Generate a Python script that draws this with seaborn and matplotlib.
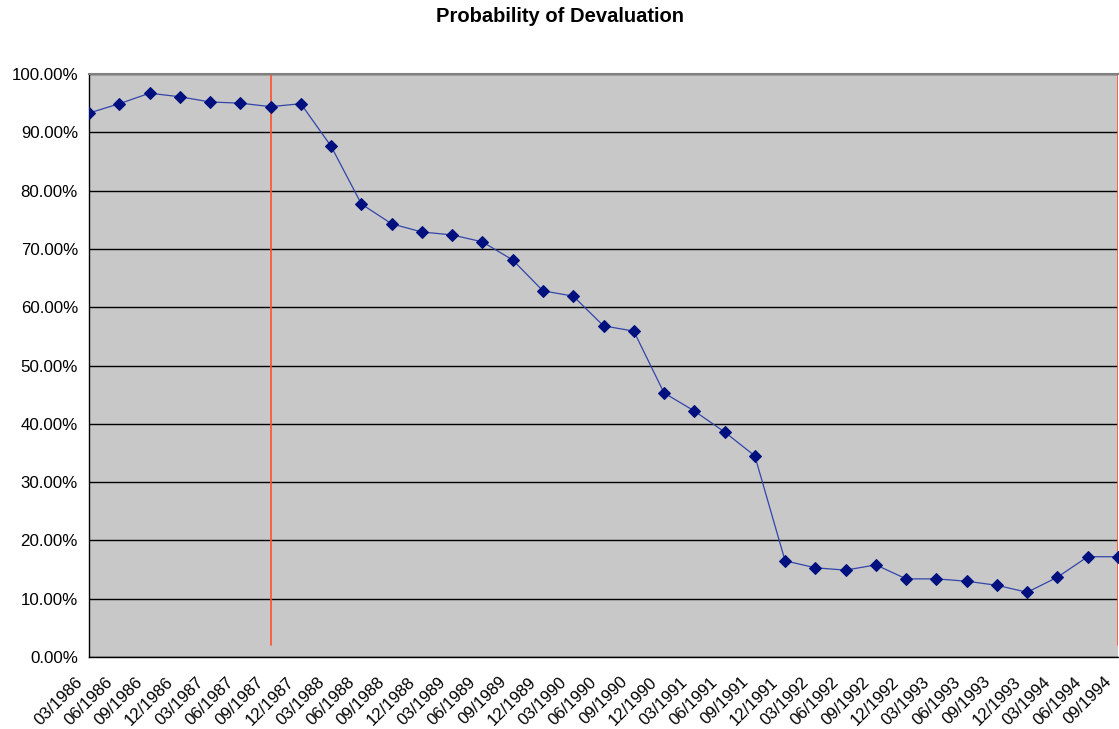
import matplotlib

matplotlib.use("Agg")
import matplotlib.pyplot as plt
import matplotlib.transforms as mtransforms
import numpy as np
import pandas as pd
import seaborn as sns
from matplotlib.ticker import PercentFormatter

# quarterly dates
quarters = [
    "03/1986", "06/1986", "09/1986", "12/1986",
    "03/1987", "06/1987", "09/1987", "12/1987",
    "03/1988", "06/1988", "09/1988", "12/1988",
    "03/1989", "06/1989", "09/1989", "12/1989",
    "03/1990", "06/1990", "09/1990", "12/1990",
    "03/1991", "06/1991", "09/1991", "12/1991",
    "03/1992", "06/1992", "09/1992", "12/1992",
    "03/1993", "06/1993", "09/1993", "12/1993",
    "03/1994", "06/1994", "09/1994",
]
# probability of devaluation, percent
prob = [
    93.3, 94.9, 96.7, 96.1,
    95.2, 95.0, 94.4, 94.9,
    87.6, 77.7, 74.3, 72.9,
    72.4, 71.2, 68.1, 62.8,
    61.9, 56.8, 55.9, 45.3,
    42.2, 38.6, 34.5, 16.5,
    15.3, 14.9, 15.8, 13.4,
    13.4, 13.0, 12.3, 11.1,
    13.7, 17.2, 17.2,
]
# vertical marker lines
event_quarters = ["09/1987", "09/1994"]

df = pd.DataFrame({"pos": np.arange(len(quarters)), "quarter": quarters, "prob": prob})

sns.set_style("white")
plt.rcParams["font.family"] = ["Liberation Sans", "DejaVu Sans"]
plt.rcParams["text.color"] = "black"

fig = plt.figure(figsize=(11.19, 7.29), dpi=100)
ax = fig.add_axes([89 / 1119, (729 - 657) / 729, (1118 - 89) / 1119, (657 - 74) / 729])
ax.set_facecolor("#c8c8c8")

sns.lineplot(data=df, x="pos", y="prob", ax=ax, color="#3344aa", linewidth=0.9,
             marker="D", markersize=6.5, markerfacecolor="#00107f",
             markeredgecolor="#00107f", zorder=3)

for q in event_quarters:
    ax.axvline(quarters.index(q), ymin=0.02, ymax=1.0, color="#ff5030", linewidth=1.2, zorder=2)

ax.set_ylim(0, 100)
ax.set_xlim(0, len(quarters) - 1)
ax.set_yticks(np.arange(0, 101, 10))
ax.yaxis.set_major_formatter(PercentFormatter(decimals=2))
ax.yaxis.grid(True, color="black", linewidth=1)
ax.set_axisbelow(True)
ax.set_xticks(df["pos"])
ax.set_xticklabels(quarters, rotation=45, ha="right", va="center", rotation_mode="anchor")
ax.tick_params(axis="both", direction="out", length=5, width=1, colors="black",
               labelcolor="black", labelsize=12.2, pad=3)
ax.tick_params(axis="x", pad=9)
# nudge the slanted labels a little to the left of their ticks
shift = mtransforms.ScaledTranslation(-9 / 100, -3 / 100, fig.dpi_scale_trans)
for lab in ax.get_xticklabels():
    lab.set_transform(lab.get_transform() + shift)
ax.set_xlabel("")
ax.set_ylabel("")
for side in ["left", "bottom"]:
    ax.spines[side].set_color("black")
    ax.spines[side].set_linewidth(1)
ax.spines["top"].set_color("#808080")
ax.spines["top"].set_linewidth(1.5)
ax.spines["right"].set_visible(False)

fig.text(0.5, 1 - 16 / 729, "Probability of Devaluation", ha="center", va="center",
         fontsize=14.5, fontweight="bold", color="black")

fig.savefig("out.png", dpi=100)
